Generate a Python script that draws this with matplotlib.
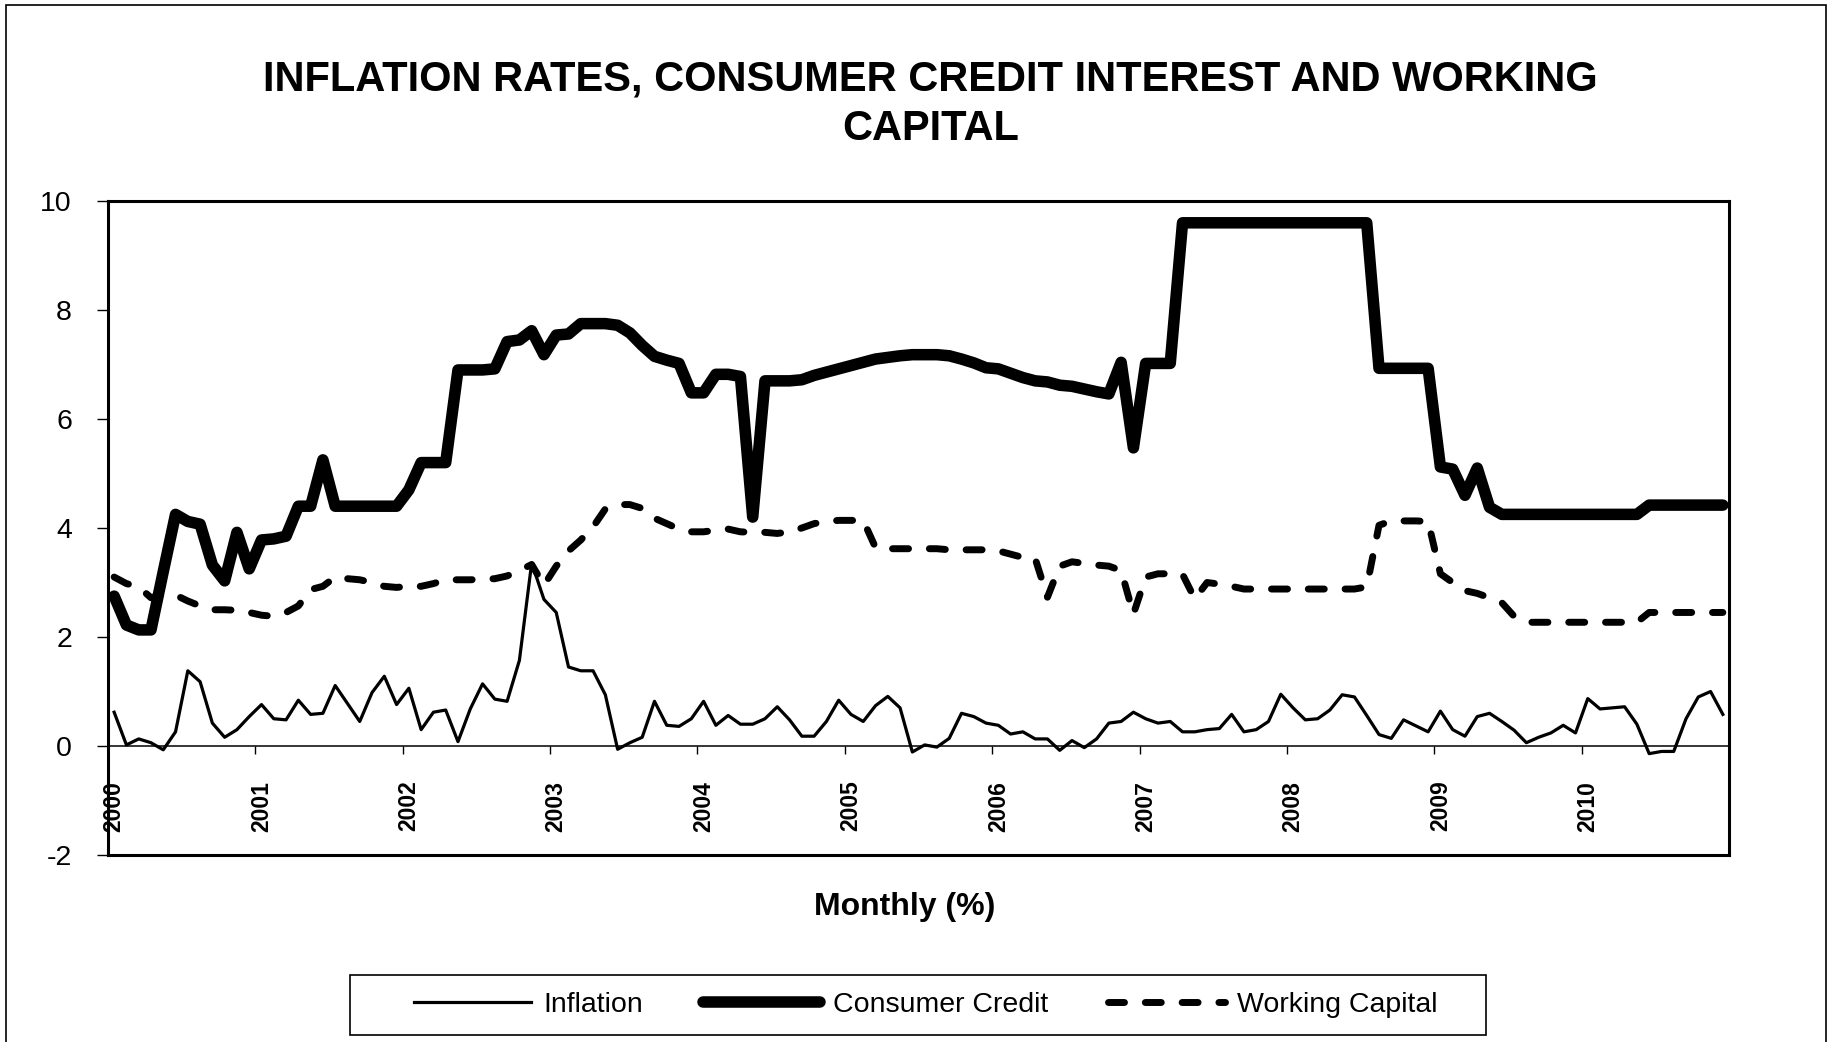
"""Inflation, consumer credit interest and working capital, monthly 2000-2010."""

import numpy as np
import matplotlib

matplotlib.use("Agg")
import matplotlib.pyplot as plt
from matplotlib.patches import Rectangle

plt.rcParams["font.family"] = ["Liberation Sans", "DejaVu Sans"]
plt.rcParams["axes.unicode_minus"] = False

W, H = 1830, 1042

YEARS = ["2000", "2001", "2002", "2003", "2004", "2005",
         "2006", "2007", "2008", "2009", "2010"]

# monthly values, one row per year (Jan..Dec)
INFLATION = [
    0.62, 0.02, 0.13, 0.06, -0.07, 0.26, 1.38, 1.18, 0.42, 0.16, 0.30, 0.54,
    0.76, 0.50, 0.48, 0.84, 0.58, 0.60, 1.11, 0.78, 0.45, 0.98, 1.28, 0.76,
    1.06, 0.30, 0.62, 0.66, 0.08, 0.68, 1.14, 0.86, 0.82, 1.57, 3.36, 2.69,
    2.45, 1.45, 1.38, 1.38, 0.94, -0.06, 0.06, 0.16, 0.82, 0.38, 0.36, 0.50,
    0.82, 0.38, 0.56, 0.40, 0.40, 0.50, 0.72, 0.48, 0.18, 0.18, 0.45, 0.84,
    0.58, 0.45, 0.74, 0.91, 0.70, -0.11, 0.02, -0.02, 0.14, 0.60, 0.54, 0.42,
    0.38, 0.22, 0.26, 0.13, 0.13, -0.08, 0.10, -0.03, 0.13, 0.42, 0.45, 0.62,
    0.50, 0.42, 0.45, 0.26, 0.26, 0.30, 0.32, 0.58, 0.26, 0.30, 0.45, 0.95,
    0.70, 0.48, 0.50, 0.66, 0.94, 0.90, 0.56, 0.21, 0.14, 0.48, 0.37, 0.26,
    0.64, 0.30, 0.18, 0.54, 0.60, 0.45, 0.29, 0.06, 0.16, 0.24, 0.38, 0.24,
    0.87, 0.68, 0.70, 0.72, 0.40, -0.14, -0.10, -0.10, 0.50, 0.90, 1.00, 0.58,
]

CONSUMER_CREDIT = [
    2.75, 2.22, 2.13, 2.13, 3.20, 4.25, 4.12, 4.07, 3.32, 3.03, 3.92, 3.25,
    3.78, 3.80, 3.85, 4.40, 4.40, 5.25, 4.40, 4.40, 4.40, 4.40, 4.40, 4.40,
    4.70, 5.20, 5.20, 5.20, 6.90, 6.90, 6.90, 6.92, 7.42, 7.45, 7.62, 7.18,
    7.54, 7.56, 7.75, 7.75, 7.75, 7.72, 7.58, 7.35, 7.15, 7.08, 7.02, 6.48,
    6.48, 6.82, 6.82, 6.78, 4.20, 6.70, 6.70, 6.70, 6.72, 6.80, 6.86, 6.92,
    6.98, 7.04, 7.10, 7.13, 7.16, 7.18, 7.18, 7.18, 7.16, 7.10, 7.03, 6.94,
    6.92, 6.84, 6.76, 6.70, 6.68, 6.62, 6.60, 6.55, 6.50, 6.46, 7.04, 5.47,
    7.02, 7.02, 7.02, 9.60, 9.60, 9.60, 9.60, 9.60, 9.60, 9.60, 9.60, 9.60,
    9.60, 9.60, 9.60, 9.60, 9.60, 9.60, 9.60, 6.93, 6.93, 6.93, 6.93, 6.93,
    5.12, 5.08, 4.60, 5.10, 4.38, 4.25, 4.25, 4.25, 4.25, 4.25, 4.25, 4.25,
    4.25, 4.25, 4.25, 4.25, 4.25, 4.42, 4.42, 4.42, 4.42, 4.42, 4.42, 4.42,
]

WORKING_CAPITAL = [
    3.10, 2.98, 2.92, 2.72, 2.78, 2.77, 2.66, 2.57, 2.50, 2.50, 2.49, 2.45,
    2.40, 2.38, 2.45, 2.57, 2.87, 2.93, 3.10, 3.07, 3.05, 3.00, 2.93, 2.91,
    2.93, 2.93, 2.98, 3.05, 3.05, 3.05, 3.06, 3.07, 3.12, 3.22, 3.33, 2.95,
    3.30, 3.58, 3.78, 4.02, 4.35, 4.43, 4.43, 4.36, 4.18, 4.08, 3.98, 3.93,
    3.93, 3.96, 3.98, 3.93, 3.92, 3.92, 3.90, 3.93, 4.00, 4.08, 4.12, 4.14,
    4.14, 4.14, 3.64, 3.62, 3.62, 3.62, 3.62, 3.62, 3.60, 3.60, 3.60, 3.60,
    3.58, 3.52, 3.46, 3.44, 2.73, 3.30, 3.38, 3.35, 3.32, 3.30, 3.22, 2.42,
    3.10, 3.16, 3.16, 3.15, 2.70, 3.00, 2.97, 2.93, 2.88, 2.88, 2.88, 2.88,
    2.88, 2.88, 2.88, 2.88, 2.88, 2.88, 2.92, 4.05, 4.13, 4.13, 4.13, 4.12,
    3.16, 3.00, 2.85, 2.80, 2.72, 2.63, 2.38, 2.27, 2.27, 2.27, 2.27, 2.27,
    2.27, 2.27, 2.27, 2.27, 2.27, 2.45, 2.45, 2.45, 2.45, 2.45, 2.45, 2.45,
]


def main() -> None:
    n = len(INFLATION)
    x = np.arange(n)

    fig = plt.figure(figsize=(W / 100, H / 100), dpi=100)
    ax = fig.add_axes([108 / W, 1 - 855 / H, (1729 - 108) / W, (855 - 201) / H])

    l_inf, = ax.plot(x, INFLATION, color="black", lw=2.3, label="Inflation", zorder=4)
    l_cc, = ax.plot(x, CONSUMER_CREDIT, color="black", lw=8.3,
                    solid_capstyle="round", label="Consumer Credit", zorder=3)
    l_wc, = ax.plot(x, WORKING_CAPITAL, color="black", lw=5, ls=(0, (2.3, 3.0)),
                    dash_capstyle="round", label="Working Capital", zorder=3)

    ax.set_xlim(-0.5, n - 0.5)
    ax.set_ylim(-2, 10)
    ax.set_xticks([])
    ax.set_yticks(range(-2, 11, 2))
    ax.tick_params(axis="y", length=8, width=1, pad=18, labelsize=20.5, direction="out")
    for s in ax.spines.values():
        s.set_linewidth(2.2)

    # category axis crosses at zero, year labels hang below it
    sec = ax.secondary_xaxis(2 / 12)
    sec.set_xticks(np.arange(11.5, n - 1, 12))
    sec.set_xticks(np.arange(0, n, 12), labels=YEARS, minor=True)
    sec.tick_params(which="major", length=6, width=1, direction="out", labelbottom=False)
    sec.tick_params(which="minor", length=0, pad=25, labelsize=16.5, labelrotation=90)
    for lbl in sec.get_xticklabels(minor=True):
        lbl.set_fontweight("bold")
    sec.spines["bottom"].set_linewidth(1.1)

    fig.text(930.5 / W, 1 - 104 / H,
             "INFLATION RATES, CONSUMER CREDIT INTEREST AND WORKING\nCAPITAL",
             ha="center", va="center", fontsize=30, fontweight="bold", linespacing=1.32)
    fig.text(904.5 / W, 1 - 907 / H, "Monthly (%)", ha="center", va="center",
             fontsize=23, fontweight="bold")

    fig.legend([l_inf, l_cc, l_wc], ["Inflation", "Consumer Credit", "Working Capital"],
               loc="center", bbox_to_anchor=(926 / W, 1 - 1005 / H), ncol=3,
               frameon=False, fontsize=20.5, handlelength=4.1, handletextpad=0.45,
               columnspacing=2.1)
    fig.add_artist(Rectangle((350 / W, 1 - 1035 / H), (1486 - 350) / W, 60 / H,
                             transform=fig.transFigure, fill=False, lw=1.2, ec="black"))
    # chart-area border
    fig.add_artist(Rectangle((6 / W, -0.01), 1820 / W, 1.01 - 5 / H,
                             transform=fig.transFigure, fill=False, lw=1.2, ec="black"))

    fig.savefig("out.png", dpi=100)


if __name__ == "__main__":
    main()
